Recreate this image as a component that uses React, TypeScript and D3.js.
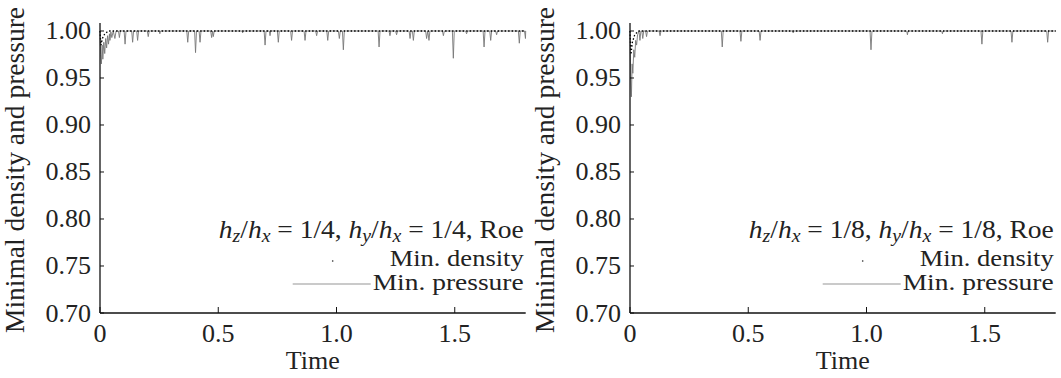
import React from "react";
import * as d3 from "d3";

const xTicks = [0, 0.5, 1.0, 1.5];
const xTickLabels = ["0", "0.5", "1.0", "1.5"];
const yTicks = [0.7, 0.75, 0.8, 0.85, 0.9, 0.95, 1.0];
const yTickLabels = ["0.70", "0.75", "0.80", "0.85", "0.90", "0.95", "1.00"];

// Left panel: h_z/h_x = 1/4
const pressureLeft: [number, number][] = [
  [0, 1.0], [0.003, 0.975], [0.006, 0.965], [0.009, 0.985], [0.012, 0.97], [0.016, 0.988],
  [0.02, 0.976], [0.024, 0.992], [0.028, 0.982], [0.032, 0.995], [0.036, 0.986], [0.04, 0.997],
  [0.042, 0.99], [0.046, 0.999], [0.05, 0.993], [0.056, 1.0], [0.063, 0.992], [0.068, 1.0],
  [0.078, 1.0], [0.082, 0.993], [0.086, 1.0], [0.102, 1.0], [0.106, 0.986], [0.11, 1.0],
  [0.134, 1.0], [0.138, 0.988], [0.142, 1.0], [0.155, 1.0], [0.159, 0.99], [0.163, 1.0],
  [0.2, 1.0], [0.204, 0.994], [0.208, 1.0], [0.25, 1.0], [0.253, 0.997], [0.256, 1.0],
  [0.367, 1.0], [0.371, 0.988], [0.375, 1.0], [0.4, 1.0], [0.404, 0.977], [0.408, 1.0],
  [0.419, 1.0], [0.423, 0.988], [0.427, 1.0], [0.468, 1.0], [0.472, 0.993], [0.476, 1.0],
  [0.479, 0.994], [0.483, 1.0], [0.6, 1.0], [0.603, 0.998], [0.606, 1.0],
  [0.694, 1.0], [0.698, 0.985], [0.702, 1.0], [0.716, 1.0], [0.719, 0.995], [0.722, 1.0],
  [0.75, 1.0], [0.754, 0.988], [0.758, 1.0], [0.806, 1.0], [0.81, 0.99], [0.814, 1.0],
  [0.863, 1.0], [0.867, 0.99], [0.871, 1.0], [0.912, 1.0], [0.916, 0.995], [0.92, 1.0],
  [0.959, 1.0], [0.963, 0.99], [0.967, 1.0], [1.008, 1.0], [1.012, 0.992], [1.016, 1.0],
  [1.025, 1.0], [1.029, 0.98], [1.033, 1.0], [1.176, 1.0], [1.18, 0.983], [1.184, 1.0],
  [1.222, 1.0], [1.226, 0.995], [1.23, 1.0], [1.25, 1.0], [1.254, 0.996], [1.258, 1.0],
  [1.307, 1.0], [1.311, 0.992], [1.315, 1.0], [1.321, 1.0], [1.325, 0.99], [1.329, 1.0],
  [1.377, 1.0], [1.381, 0.992], [1.386, 1.0], [1.391, 0.99], [1.395, 1.0],
  [1.448, 1.0], [1.452, 0.995], [1.456, 1.0], [1.49, 1.0], [1.494, 0.971], [1.498, 1.0],
  [1.546, 1.0], [1.55, 0.997], [1.554, 1.0], [1.62, 1.0], [1.624, 0.983], [1.628, 1.0],
  [1.648, 1.0], [1.652, 0.99], [1.656, 1.0], [1.673, 1.0], [1.677, 0.996], [1.681, 1.0],
  [1.769, 1.0], [1.773, 0.987], [1.777, 1.0], [1.795, 1.0], [1.799, 0.992], [1.8, 1.0],
];
const densityLeft: [number, number][] = [
  [0, 1.0], [0.004, 0.985], [0.01, 0.992], [0.02, 0.997], [0.035, 1.0], [1.8, 1.0],
];

// Right panel: h_z/h_x = 1/8
const pressureRight: [number, number][] = [
  [0, 1.0], [0.003, 0.95], [0.006, 0.93], [0.009, 0.965], [0.012, 0.955], [0.016, 0.98],
  [0.02, 0.972], [0.024, 0.99], [0.028, 0.985], [0.032, 0.996], [0.038, 1.0], [0.042, 0.99],
  [0.046, 1.0], [0.05, 1.0], [0.054, 0.992], [0.058, 1.0], [0.066, 1.0], [0.07, 0.994],
  [0.074, 1.0], [0.123, 1.0], [0.127, 0.995], [0.131, 1.0], [0.386, 1.0], [0.39, 0.983],
  [0.394, 1.0], [0.465, 1.0], [0.469, 0.989], [0.473, 1.0], [0.546, 1.0], [0.55, 0.99],
  [0.554, 1.0], [0.687, 1.0], [0.69, 0.998], [0.693, 1.0], [1.015, 1.0], [1.019, 0.98],
  [1.023, 1.0], [1.17, 1.0], [1.173, 0.996], [1.176, 1.0], [1.318, 1.0], [1.321, 0.997],
  [1.324, 1.0], [1.484, 1.0], [1.488, 0.986], [1.492, 1.0], [1.611, 1.0], [1.615, 0.988],
  [1.619, 1.0], [1.762, 1.0], [1.766, 0.988], [1.77, 1.0], [1.8, 1.0],
];
const densityRight: [number, number][] = [
  [0, 1.0], [0.004, 0.975], [0.01, 0.988], [0.02, 0.996], [0.035, 1.0], [1.8, 1.0],
];

const panels = [
  { x0: 100, ratio: "1/4", pressure: pressureLeft, density: densityLeft },
  { x0: 630, ratio: "1/8", pressure: pressureRight, density: densityRight },
];

const FONT = "Liberation Serif";
const Y_TOP = 23;
const Y_BOT = 313;
const PLOT_W = 425.7;

const sx = (cx: number, s: number) => `translate(${cx},0) scale(${s},1) translate(${-cx},0)`;

function Panel({ x0, ratio, pressure, density }: any) {
  const x = d3.scaleLinear().domain([0, 1.8]).range([x0, x0 + PLOT_W]);
  const y = d3.scaleLinear().domain([0.7, 1.0085]).range([Y_BOT, Y_TOP]);
  const line = d3
    .line<[number, number]>()
    .x((d) => x(d[0]))
    .y((d) => y(d[1]));
  const right = x0 + PLOT_W - 2;
  const mid = x0 + PLOT_W / 2;
  return (
    <g>
      <path d={line(pressure) || ""} fill="none" stroke="#777" strokeWidth={0.9} />
      <path
        d={line(density) || ""}
        fill="none"
        stroke="#000"
        strokeWidth={1.3}
        strokeDasharray="1.5,2"
      />
      <line x1={x0} x2={x0} y1={Y_TOP} y2={Y_BOT} stroke="#111" strokeWidth={1.3} />
      <line x1={x0} x2={x0 + PLOT_W} y1={Y_BOT} y2={Y_BOT} stroke="#111" strokeWidth={1.3} />
      {yTicks.map((t, i) => (
        <g key={"y" + i}>
          <line x1={x0} x2={x0 + 4} y1={y(t)} y2={y(t)} stroke="#111" strokeWidth={1} />
          <text
            x={x0 - 9}
            y={y(t) + 8.5}
            textAnchor="end"
            fontFamily={FONT}
            fontSize={26}
            fill="#222"
          >
            {yTickLabels[i]}
          </text>
        </g>
      ))}
      {xTicks.map((t, i) => (
        <g key={"x" + i}>
          <line x1={x(t)} x2={x(t)} y1={Y_BOT} y2={Y_BOT - 6} stroke="#111" strokeWidth={1} />
          <text
            x={x(t)}
            y={342}
            textAnchor="middle"
            fontFamily={FONT}
            fontSize={26}
            fill="#222"
          >
            {xTickLabels[i]}
          </text>
        </g>
      ))}
      <text x={mid} y={369} textAnchor="middle" fontFamily={FONT} fontSize={26} fill="#222">
        Time
      </text>
      <text
        transform={`translate(${x0 - 76},170) rotate(-90)`}
        textAnchor="middle"
        fontFamily={FONT}
        fontSize={26.5}
        fill="#222"
        textLength={326}
        lengthAdjust="spacingAndGlyphs"
      >
        Minimal density and pressure
      </text>
      {/* legend */}
      <text
        x={right}
        y={238}
        textAnchor="end"
        fontFamily={FONT}
        fontSize={25}
        fill="#222"
        transform={sx(right, 1.1)}
      >
        <tspan fontStyle="italic">h</tspan>
        <tspan fontStyle="italic" fontSize={18} dy={4}>z</tspan>
        <tspan dy={-4}>/</tspan>
        <tspan fontStyle="italic">h</tspan>
        <tspan fontStyle="italic" fontSize={18} dy={4}>x</tspan>
        <tspan dy={-4}>{` = ${ratio}, `}</tspan>
        <tspan fontStyle="italic">h</tspan>
        <tspan fontStyle="italic" fontSize={18} dy={4}>y</tspan>
        <tspan dy={-4}>/</tspan>
        <tspan fontStyle="italic">h</tspan>
        <tspan fontStyle="italic" fontSize={18} dy={4}>x</tspan>
        <tspan dy={-4}>{` = ${ratio}, Roe`}</tspan>
      </text>
      <text
        x={right}
        y={266}
        textAnchor="end"
        fontFamily={FONT}
        fontSize={23}
        fill="#222"
        textLength={134}
        lengthAdjust="spacingAndGlyphs"
      >
        Min. density
      </text>
      <text
        x={right}
        y={290}
        textAnchor="end"
        fontFamily={FONT}
        fontSize={23}
        fill="#222"
        textLength={151}
        lengthAdjust="spacingAndGlyphs"
      >
        Min. pressure
      </text>
      <circle cx={right - 191} cy={261} r={0.8} fill="#222" />
      <line x1={right - 231} x2={right - 153} y1={284} y2={284} stroke="#b8b8b8" strokeWidth={1.5} />
    </g>
  );
}

export default function App() {
  return (
    <svg width={1061} height={378} style={{ display: "block", position: "absolute", left: 0, top: 0 }}>
      <rect width={1061} height={378} fill="#fff" />
      {panels.map((p, i) => (
        <Panel key={i} {...p} />
      ))}
    </svg>
  );
}
